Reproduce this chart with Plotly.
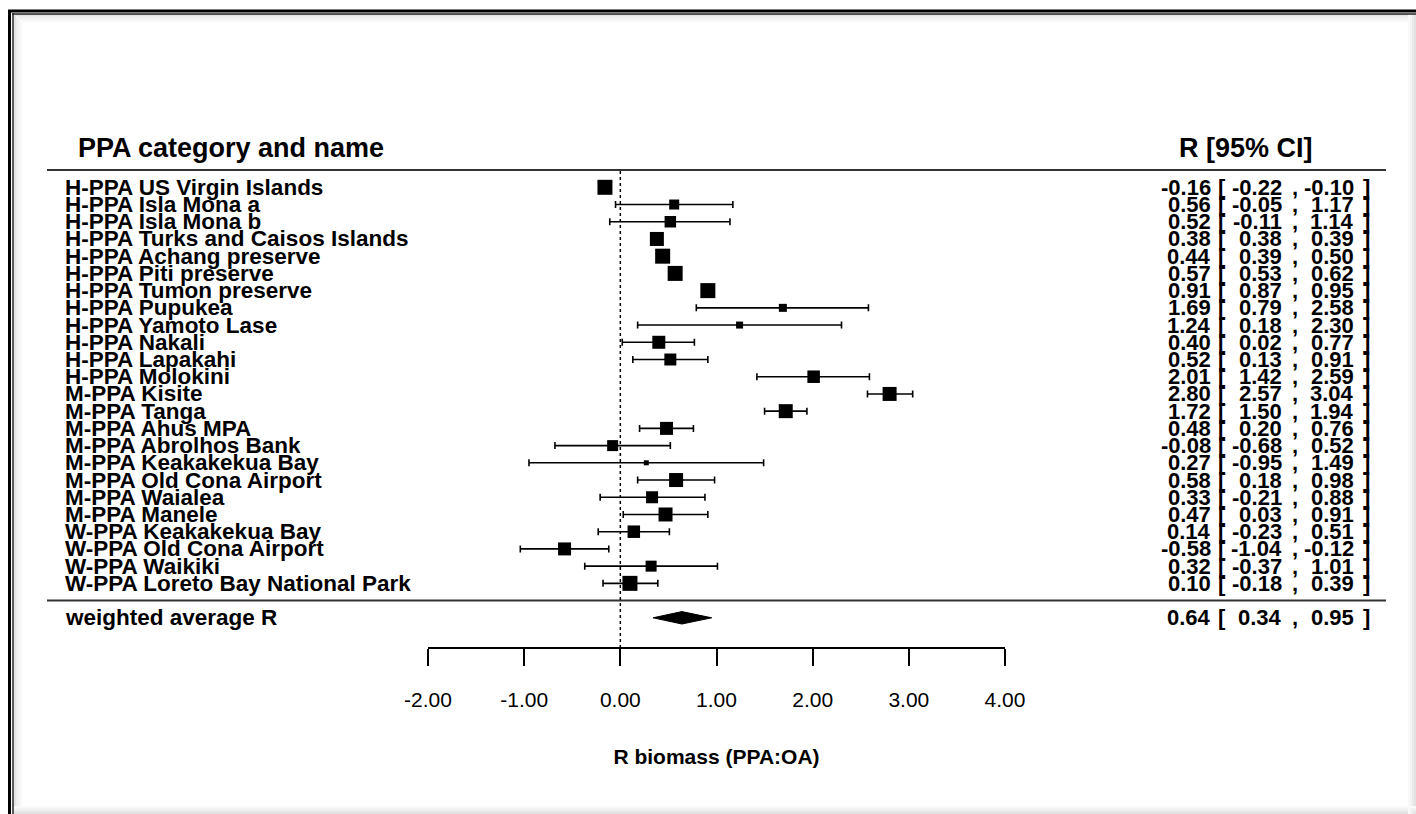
import plotly.graph_objects as go

# Study rows (top to bottom)
labels = [
    "H-PPA US Virgin Islands", "H-PPA Isla Mona a", "H-PPA Isla Mona b",
    "H-PPA Turks and Caisos Islands", "H-PPA Achang preserve", "H-PPA Piti preserve",
    "H-PPA Tumon preserve", "H-PPA Pupukea", "H-PPA Yamoto Lase", "H-PPA Nakali",
    "H-PPA Lapakahi", "H-PPA Molokini", "M-PPA Kisite", "M-PPA Tanga",
    "M-PPA Ahus MPA", "M-PPA Abrolhos Bank", "M-PPA Keakakekua Bay",
    "M-PPA Old Cona Airport", "M-PPA Waialea", "M-PPA Manele",
    "W-PPA Keakakekua Bay", "W-PPA Old Cona Airport", "W-PPA Waikiki",
    "W-PPA Loreto Bay National Park",
]
estimate = [-0.16, 0.56, 0.52, 0.38, 0.44, 0.57, 0.91, 1.69, 1.24, 0.40, 0.52, 2.01,
            2.80, 1.72, 0.48, -0.08, 0.27, 0.58, 0.33, 0.47, 0.14, -0.58, 0.32, 0.10]
ci_lower = [-0.22, -0.05, -0.11, 0.38, 0.39, 0.53, 0.87, 0.79, 0.18, 0.02, 0.13, 1.42,
            2.57, 1.50, 0.20, -0.68, -0.95, 0.18, -0.21, 0.03, -0.23, -1.04, -0.37, -0.18]
ci_upper = [-0.10, 1.17, 1.14, 0.39, 0.50, 0.62, 0.95, 2.58, 2.30, 0.77, 0.91, 2.59,
            3.04, 1.94, 0.76, 0.52, 1.49, 0.98, 0.88, 0.91, 0.51, -0.12, 1.01, 0.39]
# relative study weight, shown as the square's side
weight = [15, 10, 11.5, 14, 15, 15, 15, 8, 7, 13, 12, 12.5,
          14, 14, 13, 11, 5, 14, 12, 14, 12.5, 13, 11, 15]

pooled_label = "weighted average R"
pooled = (0.64, 0.34, 0.95)

tick_values = [-2, -1, 0, 1, 2, 3, 4]
tick_text = [f"{v:.2f}" for v in tick_values]
x_title = "R biomass (PPA:OA)"
left_header = "PPA category and name"
right_header = "R [95% CI]"

W, H = 1416, 814
n = len(labels)
rows = list(range(1, n + 1))
pooled_row = n + 2
FONT = "Liberation Sans, Arial, sans-serif"

fig = go.Figure()

# study estimates with confidence intervals
fig.add_trace(go.Scatter(
    x=estimate, y=rows, mode="markers",
    marker=dict(symbol="square", size=weight, color="black", opacity=1, line=dict(width=0)),
    error_x=dict(type="data", symmetric=False,
                 array=[u - e for u, e in zip(ci_upper, estimate)],
                 arrayminus=[e - l for e, l in zip(estimate, ci_lower)],
                 color="black", thickness=1.6, width=3.5),
    hoverinfo="skip", showlegend=False,
))

# pooled estimate diamond
est, lo, hi = pooled
half = 0.36
fig.add_trace(go.Scatter(
    x=[lo, est, hi, est, lo],
    y=[pooled_row, pooled_row - half, pooled_row, pooled_row + half, pooled_row],
    mode="lines", fill="toself", fillcolor="black",
    line=dict(color="black", width=1), hoverinfo="skip", showlegend=False,
))

def px(x):
    return x / W

def py(y):
    return 1 - y / H

annotations = []

# column headers
annotations.append(dict(x=px(76), y=-1.3, xref="paper", yref="y", text=f"<b>{left_header}</b>",
                        showarrow=False, xanchor="left", yanchor="middle",
                        font=dict(family=FONT, size=27, color="black")))
annotations.append(dict(x=px(1246), y=-1.3, xref="paper", yref="y", text=f"<b>{right_header}</b>",
                        showarrow=False, xanchor="center", yanchor="middle",
                        font=dict(family=FONT, size=27, color="black")))

def add_row(label, e, l, u, y):
    f = dict(family=FONT, size=22.5, color="black")
    annotations.append(dict(x=px(63), y=y, xref="paper", yref="y", text=f"<b>{label}</b>",
                            showarrow=False, xanchor="left", yanchor="middle", font=f))
    fn = dict(family=FONT, size=22, color="black")
    parts = [
        (f"{e:.2f}", 1213, "right"), ("[", 1222, "center"),
        (f"{l:.2f}", 1284, "right"), (",", 1295, "center"),
        (f"{u:.2f}", 1356, "right"), ("]", 1366, "center"),
    ]
    for txt, xp, anc in parts:
        annotations.append(dict(x=px(xp), y=y, xref="paper", yref="y", text=f"<b>{txt}</b>",
                                showarrow=False, xanchor=anc, yanchor="middle", font=fn))

for lab, e, l, u, r in zip(labels, estimate, ci_lower, ci_upper, rows):
    add_row(lab, e, l, u, r)
add_row(pooled_label, *pooled, pooled_row)

shapes = []
# header and footer rules
for yv in (0, n + 1):
    shapes.append(dict(type="line", xref="paper", yref="y", x0=px(47), x1=px(1386),
                       y0=yv, y1=yv, line=dict(color="#333333", width=2)))
# reference line at zero
axis_y_px = 648
shapes.append(dict(type="line", xref="x", yref="paper", x0=0, x1=0,
                   y0=py(axis_y_px), y1=py(171),
                   line=dict(color="black", width=1.5, dash="3px,3px")))

# frame: dark double edge on top/left with a soft inner shade
for i, g in enumerate(["#e4e4e4", "#eeeeee", "#f4f4f4", "#f9f9f9"]):
    off = 15 + i * 2
    shapes.append(dict(type="line", xref="paper", yref="paper", x0=px(off), x1=px(W),
                       y0=py(off), y1=py(off), line=dict(color=g, width=2)))
    shapes.append(dict(type="line", xref="paper", yref="paper", x0=px(off), x1=px(off),
                       y0=py(off), y1=py(H), line=dict(color=g, width=2)))
for i, g in enumerate(["#e2e2e2", "#ebebeb", "#f3f3f3", "#f9f9f9"]):
    shapes.append(dict(type="line", xref="paper", yref="paper", x0=px(W - 1 - 2 * i), x1=px(W - 1 - 2 * i),
                       y0=py(14), y1=py(H), line=dict(color=g, width=2)))
    shapes.append(dict(type="line", xref="paper", yref="paper", x0=px(14), x1=px(W),
                       y0=py(H - 1 - 2 * i), y1=py(H - 1 - 2 * i), line=dict(color=g, width=2)))
shapes.append(dict(type="line", xref="paper", yref="paper", x0=px(8), x1=px(W),
                   y0=py(11), y1=py(11), line=dict(color="black", width=3)))
shapes.append(dict(type="line", xref="paper", yref="paper", x0=px(12), x1=px(W),
                   y0=py(14), y1=py(14), line=dict(color="#222222", width=1.5)))
shapes.append(dict(type="line", xref="paper", yref="paper", x0=px(9.5), x1=px(9.5),
                   y0=py(10), y1=py(H), line=dict(color="black", width=3)))
shapes.append(dict(type="line", xref="paper", yref="paper", x0=px(13), x1=px(13),
                   y0=py(13), y1=py(H), line=dict(color="#222222", width=1.5)))

row_px0, row_step = 187.3, 17.22
y_top = 1 - row_px0 / row_step
y_bot = 1 + (H - row_px0) / row_step

fig.update_layout(
    width=W, height=H,
    margin=dict(l=0, r=0, t=0, b=0, autoexpand=False),
    paper_bgcolor="white", plot_bgcolor="white",
    showlegend=False,
    xaxis=dict(
        domain=[px(428), px(1005)], range=[-2, 4],
        anchor="free", position=py(axis_y_px),
        automargin=False,
        tickvals=tick_values, ticktext=tick_text,
        ticks="outside", ticklen=17, tickwidth=1.5, tickcolor="black",
        showline=True, linecolor="black", linewidth=1.5,
        showgrid=False, zeroline=False,
        tickfont=dict(family=FONT, size=21, color="black"),
        ticklabelstandoff=16,
        title=dict(text=f"<b>{x_title}</b>", standoff=38,
                   font=dict(family=FONT, size=21, color="black")),
        fixedrange=True,
    ),
    yaxis=dict(domain=[0, 1], range=[y_bot, y_top], visible=False,
               automargin=False, fixedrange=True),
    annotations=annotations,
    shapes=shapes,
)

fig.write_html("out.html")
